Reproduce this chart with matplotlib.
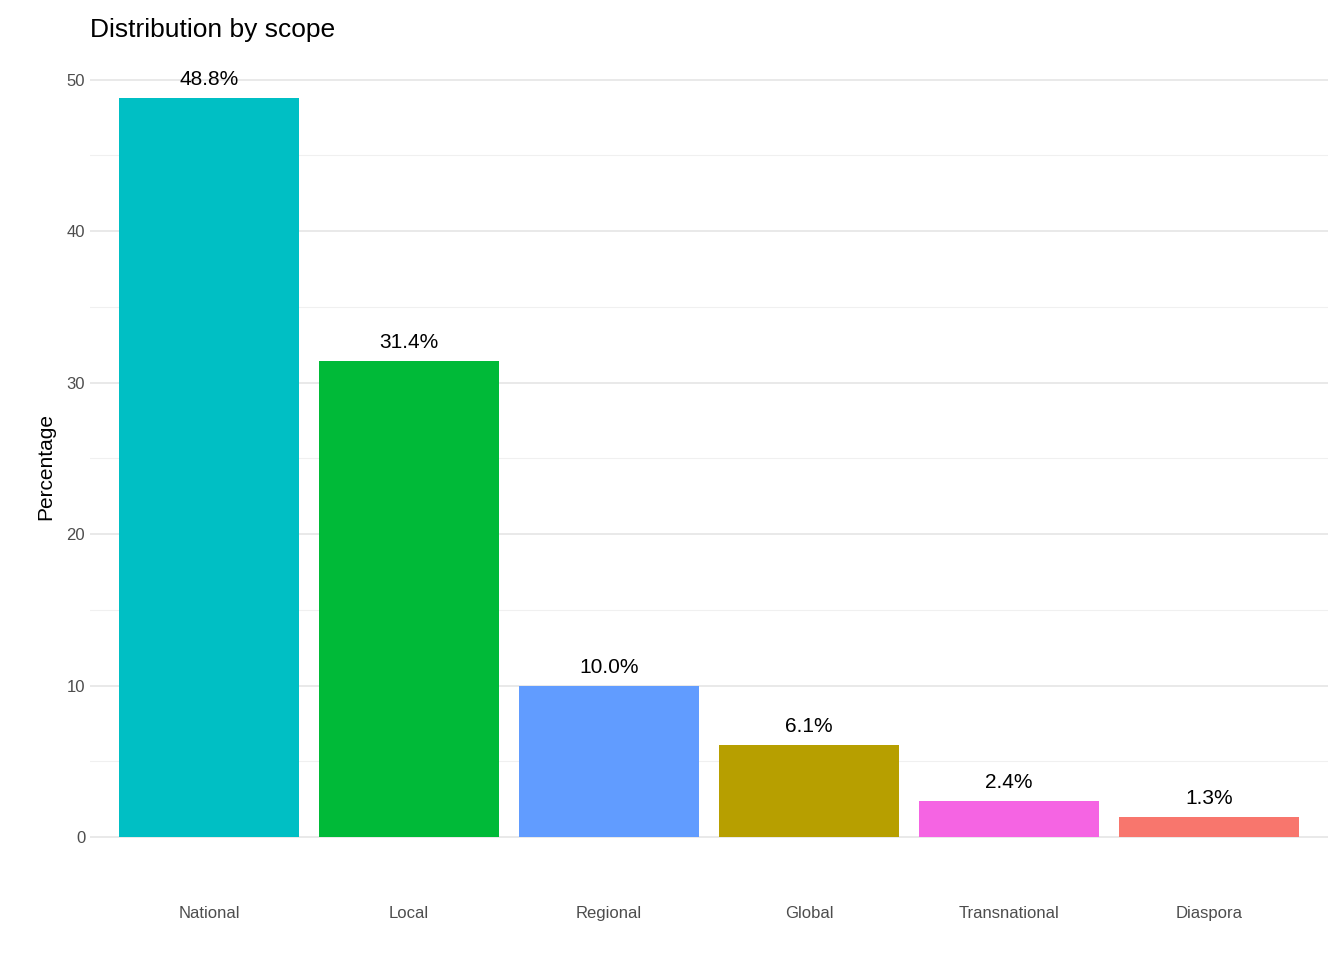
import matplotlib
matplotlib.use("Agg")
import matplotlib.pyplot as plt
from matplotlib.ticker import MultipleLocator

categories = ["National", "Local", "Regional", "Global", "Transnational", "Diaspora"]
values = [48.8, 31.4, 10.0, 6.1, 2.4, 1.3]
colors = ["#00BFC4", "#00BA38", "#619CFF", "#B79F00", "#F564E3", "#F8766D"]

plt.rcParams["font.family"] = ["Liberation Sans", "DejaVu Sans"]

fig = plt.figure(figsize=(13.44, 9.6), dpi=100)
ax = fig.add_axes([90 / 1344, 1 - 875 / 960, 1238 / 1344, 818 / 960])

x = range(1, len(categories) + 1)
ax.bar(x, values, width=0.9, color=colors, zorder=2)
for xi, v in zip(x, values):
    ax.text(xi, v + 0.6, f"{v:.1f}%", ha="center", va="bottom", fontsize=15, color="black")

ax.set_xlim(0.405, 6.595)
ax.set_ylim(-2.5, 51.5)
ax.set_xticks(list(x))
ax.set_xticklabels(categories)
ax.yaxis.set_major_locator(MultipleLocator(10))
ax.yaxis.set_minor_locator(MultipleLocator(5))
ax.grid(axis="y", which="major", color="#e5e5e5", linewidth=1.2, zorder=0)
ax.grid(axis="y", which="minor", color="#f0f0f0", linewidth=0.8, zorder=0)
ax.tick_params(axis="both", which="both", length=0, labelsize=12, labelcolor="#4d4d4d")
ax.tick_params(axis="x", pad=22)
for s in ax.spines.values():
    s.set_visible(False)

ax.set_ylabel("Percentage", fontsize=15, labelpad=8)
fig.text(90 / 1344, 1 - 30 / 960, "Distribution by scope", fontsize=19, va="center", ha="left")

fig.savefig("out.png", dpi=100)
